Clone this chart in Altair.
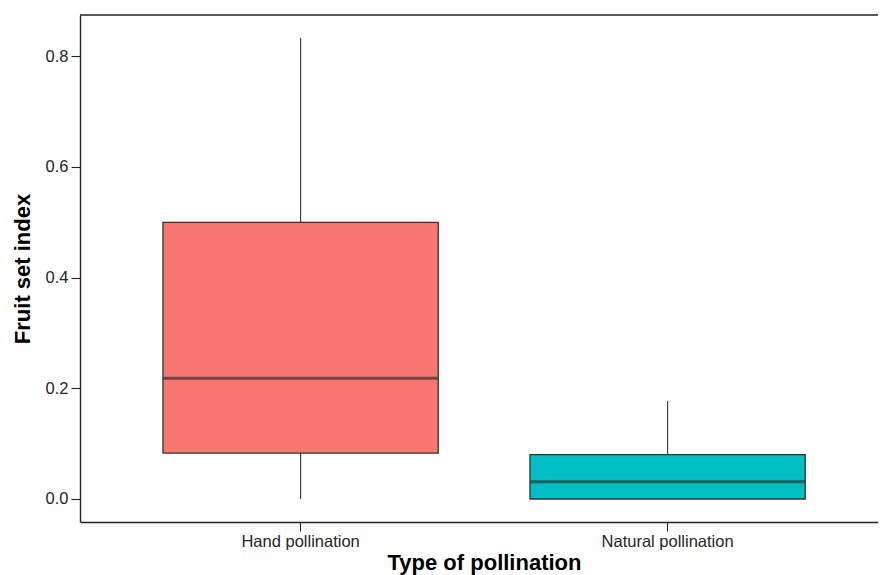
import altair as alt
import pandas as pd

groups = ["Hand pollination", "Natural pollination"]
lower = [0.0, 0.0]
q1 = [0.083, 0.0]
median = [0.218, 0.031]
q3 = [0.500, 0.080]
upper = [0.833, 0.177]
colors = ["#F8766D", "#00BFC4"]

df = pd.DataFrame({"group": groups, "lower": lower, "q1": q1,
                   "median": median, "q3": q3, "upper": upper})

W, H = 798, 507
FONT = "Liberation Sans"

xscale = alt.Scale(paddingInner=0.25, paddingOuter=0.2122, align=0.5327)
yscale = alt.Scale(domain=[-0.0416, 0.8746], nice=False, zero=False)

x = alt.X("group:N", scale=xscale, sort=groups,
          axis=alt.Axis(title="Type of pollination", labelAngle=0))
base = alt.Chart(df)

whisk_lo = base.mark_rule(color="#333333", strokeWidth=1.1).encode(
    x=x, y=alt.Y("lower:Q", scale=yscale, axis=alt.Axis(title="Fruit set index", values=[0, 0.2, 0.4, 0.6, 0.8], format=".1f")),
    y2="q1:Q")
whisk_hi = base.mark_rule(color="#333333", strokeWidth=1.1).encode(
    x=x, y=alt.Y("q3:Q", scale=yscale), y2="upper:Q")
box = base.mark_bar(stroke="#333333", strokeWidth=1.3, opacity=1).encode(
    x=x, y=alt.Y("q1:Q", scale=yscale), y2="q3:Q",
    fill=alt.Fill("group:N", scale=alt.Scale(domain=groups, range=colors), legend=None))
med = base.mark_tick(color="#333333", thickness=3, size=275).encode(
    x=x, y=alt.Y("median:Q", scale=yscale))
top = alt.Chart(pd.DataFrame({"v": [0]})).mark_rule(color="#222222", strokeWidth=1.4).encode(
    x=alt.value(0), x2=alt.value(W), y=alt.value(0))

chart = alt.layer(whisk_lo, whisk_hi, box, med, top).properties(
    width=W, height=H,
    autosize=alt.AutoSizeParams(type="none"),
    padding={"left": 72, "top": 7, "right": 0, "bottom": 53},
).configure_view(stroke=None).configure_axis(
    grid=False, domainColor="#222222", domainWidth=1.4,
    tickColor="#222222", tickWidth=1.1, tickSize=9,
    labelFont=FONT, labelFontSize=16.5, labelColor="#262626",
    titleFont=FONT, titleFontSize=22, titleFontWeight="bold", titleColor="#000000",
).configure_axisY(labelPadding=3, titlePadding=11).configure_axisX(
    labelPadding=2, titleY=47, titleX=404, titleBaseline="alphabetic")

chart.save("out.html", embed_options={"renderer": "svg", "actions": False})
